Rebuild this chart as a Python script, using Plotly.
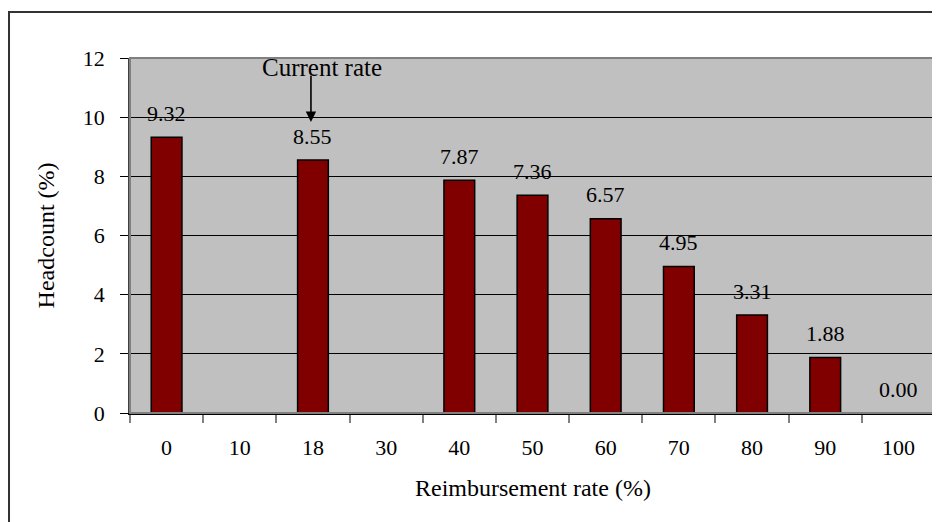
import plotly.graph_objects as go

categories = ["0", "10", "18", "30", "40", "50", "60", "70", "80", "90", "100"]
values = [9.32, None, 8.55, None, 7.87, 7.36, 6.57, 4.95, 3.31, 1.88, 0.00]
labels = ["9.32", "", "8.55", "", "7.87", "7.36", "6.57", "4.95", "3.31", "1.88", "0.00"]
y_ticks = [0, 2, 4, 6, 8, 10, 12]
arrow_category = "18"
arrow_text = "Current rate"
x_title = "Reimbursement rate (%)"
y_title = "Headcount (%)"

FONT = "Liberation Serif"
FS = 22

fig = go.Figure()
fig.add_trace(go.Bar(
    x=categories,
    y=values,
    marker=dict(color="#800000", line=dict(color="#000000", width=1.5)),
    width=0.42,
    hoverinfo="x+y",
))

idx = {c: i for i, c in enumerate(categories)}
annotations = []
for c, v, t in zip(categories, values, labels):
    if v is None:
        continue
    annotations.append(dict(
        x=idx[c], y=v, xref="x", yref="y", text=t, showarrow=False,
        yanchor="middle", yshift=24,
        font=dict(family=FONT, size=FS, color="#000000"),
    ))

ai = idx[arrow_category]
annotations.append(dict(
    x=ai, y=11.68, xref="x", yref="y", text=arrow_text,
    showarrow=False, xshift=9, yanchor="middle",
    font=dict(family=FONT, size=25, color="#000000"),
))
annotations.append(dict(
    x=ai, y=9.84, xref="x", yref="y", text="",
    showarrow=True, ax=ai, ay=11.45, axref="x", ayref="y",
    xshift=-2,
    arrowhead=2, arrowsize=1.3, arrowwidth=1.6, arrowcolor="#000000",
))
annotations.append(dict(
    x=0.5, y=-0.2113, xref="paper", yref="paper", text=x_title,
    showarrow=False, xanchor="center", yanchor="middle",
    font=dict(family=FONT, size=24, color="#000000"),
))
annotations.append(dict(
    x=-0.1045, y=0.5, xref="paper", yref="paper", text=y_title,
    showarrow=False, xanchor="center", yanchor="middle", textangle=-90,
    font=dict(family=FONT, size=24, color="#000000"),
))

fig.update_layout(
    width=932, height=514,
    margin=dict(l=122, r=5, t=50, b=109),
    paper_bgcolor="#FFFFFF",
    plot_bgcolor="#C0C0C0",
    showlegend=False,
    font=dict(family=FONT, size=FS, color="#000000"),
    annotations=annotations,
    xaxis=dict(
        type="category",
        range=[-0.5, len(categories) - 0.5],
        autorange=False,
        tickson="boundaries",
        ticks="outside", ticklen=8, tickcolor="#808080", tickwidth=1.5,
        showgrid=False,
        showline=True, linecolor="#000000", linewidth=1.5,
        tickfont=dict(family=FONT, size=FS),
        ticklabelstandoff=14,
        fixedrange=True,
    ),
    yaxis=dict(
        range=[0, 12],
        autorange=False,
        tickvals=y_ticks,
        ticks="outside", ticklen=8, tickcolor="#000000", tickwidth=1,
        showgrid=True, gridcolor="#000000", gridwidth=1,
        showline=True, linecolor="#404040", linewidth=1.5,
        zeroline=False,
        tickfont=dict(family=FONT, size=FS),
        ticklabelstandoff=11,
        fixedrange=True,
    ),
    shapes=[
        dict(type="rect", xref="paper", yref="paper", x0=0, y0=0, x1=1, y1=1,
             line=dict(color="#808080", width=2), layer="above"),
        dict(type="rect", xref="paper", yref="paper", x0=-0.1503, y0=-0.5, x1=1.2, y1=1.1296,
             line=dict(color="#333333", width=2), layer="above"),
    ],
)

fig.write_html("out.html")
